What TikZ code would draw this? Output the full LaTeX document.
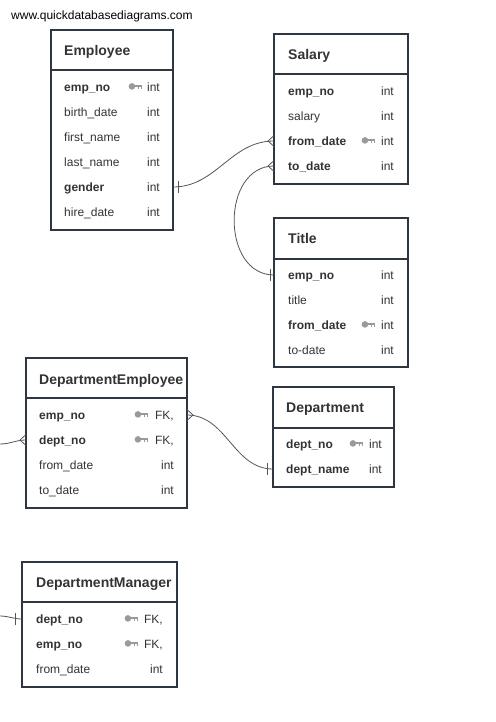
\documentclass[tikz,border=0pt]{standalone}
\usepackage{fontspec}
\setmainfont{Liberation Sans}
\usepackage{tikz}

\definecolor{tblborder}{HTML}{2E3641}
\definecolor{ink}{HTML}{333333}
\definecolor{keygray}{HTML}{9A9A9A}
\definecolor{relgray}{HTML}{555555}

\tikzset{
	tbl/.style={draw=tblborder, line width=2pt, anchor=north west, inner sep=0pt, outer sep=0pt},
	divider/.style={draw=tblborder, line width=2pt},
	hdr/.style={anchor=west, inner sep=0pt, text=ink, text height=10pt, text depth=0pt,
		font=\fontsize{14}{16}\selectfont\bfseries},
	fld/.style={anchor=west, inner sep=0pt, text=ink, text height=8.6pt, text depth=0pt,
		font=\fontsize{12}{14}\selectfont},
	pkfld/.style={fld, font=\fontsize{12}{14}\selectfont\bfseries},
	typ/.style={fld, anchor=east},
	rel/.style={draw=relgray, line width=0.8pt},
	keyicon/.pic={
		\fill[keygray] (-10,-0.6) circle (3.3);
		\fill[keygray] (-7.5,-1.8) rectangle (0,0.3);
		\fill[keygray] (-4,0) rectangle (-2.6,2.4);
		\fill[keygray] (-1.4,0) rectangle (0,2.4);
	},
	crow/.pic={\draw[rel] (-6,0) -- (0,-5.5) (-6,0) -- (0,5.5);},
	onebar/.pic={\draw[rel] (-5,-6) -- (-5,6);}
}

\begin{document}
\begin{tikzpicture}[x=1pt, y=-1pt]
	\useasboundingbox (0,0) rectangle (495,722);

	\node[anchor=west, inner sep=0pt, font=\fontsize{12}{14}\selectfont] (site) at (11,16) {www.quickdatabasediagrams.com};

	% Employee
	\node[tbl, minimum width=122pt, minimum height=200pt] (employee) at (51,30) {};
	\draw[divider] (51,70) -- (173,70);
	\node[hdr] (employee-h) at (64,50.5) {Employee};
	\node[pkfld] (employee-empno) at (64,87) {emp\_no};
	\node[fld] (employee-birth) at (64,112) {birth\_date};
	\node[fld] (employee-first) at (64,137) {first\_name};
	\node[fld] (employee-last) at (64,162) {last\_name};
	\node[pkfld] (employee-gender) at (64,187) {gender};
	\node[fld] (employee-hire) at (64,212) {hire\_date};
	\node[typ] (employee-t1) at (160,87) {int};
	\node[typ] (employee-t2) at (160,112) {int};
	\node[typ] (employee-t3) at (160,137) {int};
	\node[typ] (employee-t4) at (160,162) {int};
	\node[typ] (employee-t5) at (160,187) {int};
	\node[typ] (employee-t6) at (160,212) {int};
	\pic at ([xshift=-5pt]employee-t1.west) {keyicon};

	% Salary
	\node[tbl, minimum width=134pt, minimum height=150pt] (salary) at (274,34) {};
	\draw[divider] (274,74) -- (408,74);
	\node[hdr] (salary-h) at (288,55) {Salary};
	\node[pkfld] (salary-empno) at (288,91) {emp\_no};
	\node[fld] (salary-salary) at (288,116) {salary};
	\node[pkfld] (salary-from) at (288,141) {from\_date};
	\node[pkfld] (salary-to) at (288,166) {to\_date};
	\node[typ] (salary-t1) at (394,91) {int};
	\node[typ] (salary-t2) at (394,116) {int};
	\node[typ] (salary-t3) at (394,141) {int};
	\node[typ] (salary-t4) at (394,166) {int};
	\pic at ([xshift=-6pt]salary-t3.west) {keyicon};

	% Title
	\node[tbl, minimum width=134pt, minimum height=149pt] (title) at (274,218) {};
	\draw[divider] (274,259) -- (408,259);
	\node[hdr] (title-h) at (288,238) {Title};
	\node[pkfld] (title-empno) at (288,275) {emp\_no};
	\node[fld] (title-title) at (288,300) {title};
	\node[pkfld] (title-from) at (288,325) {from\_date};
	\node[fld] (title-to) at (288,350) {to-date};
	\node[typ] (title-t1) at (394,275) {int};
	\node[typ] (title-t2) at (394,300) {int};
	\node[typ] (title-t3) at (394,325) {int};
	\node[typ] (title-t4) at (394,350) {int};
	\pic at ([xshift=-6pt]title-t3.west) {keyicon};

	% DepartmentEmployee
	\node[tbl, minimum width=161pt, minimum height=150pt] (deptemp) at (26,358) {};
	\draw[divider] (26,398) -- (187,398);
	\node[hdr] (deptemp-h) at (39,379) {DepartmentEmployee};
	\node[pkfld] (deptemp-empno) at (39,415) {emp\_no};
	\node[pkfld] (deptemp-deptno) at (39,440) {dept\_no};
	\node[fld] (deptemp-from) at (39,465) {from\_date};
	\node[fld] (deptemp-to) at (39,490) {to\_date};
	\node[typ] (deptemp-t1) at (174,415) {FK,};
	\node[typ] (deptemp-t2) at (174,440) {FK,};
	\node[typ] (deptemp-t3) at (174,465) {int};
	\node[typ] (deptemp-t4) at (174,490) {int};
	\pic at ([xshift=-7pt]deptemp-t1.west) {keyicon};
	\pic at ([xshift=-7pt]deptemp-t2.west) {keyicon};

	% Department
	\node[tbl, minimum width=121pt, minimum height=100pt] (dept) at (273,387) {};
	\draw[divider] (273,428) -- (394,428);
	\node[hdr] (dept-h) at (286,407) {Department};
	\node[pkfld] (dept-deptno) at (286,444) {dept\_no};
	\node[pkfld] (dept-name) at (286,469) {dept\_name};
	\node[typ] (dept-t1) at (382,444) {int};
	\node[typ] (dept-t2) at (382,469) {int};
	\pic at ([xshift=-6pt]dept-t1.west) {keyicon};

	% DepartmentManager
	\node[tbl, minimum width=155pt, minimum height=125pt] (deptman) at (22,562) {};
	\draw[divider] (22,602) -- (177,602);
	\node[hdr] (deptman-h) at (36,582) {DepartmentManager};
	\node[pkfld] (deptman-deptno) at (36,619) {dept\_no};
	\node[pkfld] (deptman-empno) at (36,644) {emp\_no};
	\node[fld] (deptman-from) at (36,669) {from\_date};
	\node[typ] (deptman-t1) at (163,619) {FK,};
	\node[typ] (deptman-t2) at (163,644) {FK,};
	\node[typ] (deptman-t3) at (163,669) {int};
	\pic at ([xshift=-6pt]deptman-t1.west) {keyicon};
	\pic at ([xshift=-6pt]deptman-t2.west) {keyicon};

	% relations
	\coordinate (deoff) at (0,444);
	\coordinate (dmoff) at (0,616);

	\draw[rel] (employee.east |- employee-gender) to[out=0, in=180] (salary.west |- salary-from);
	\pic[xscale=-1] at (employee.east |- employee-gender) {onebar};
	\pic at (salary.west |- salary-from) {crow};

	\draw[rel] (salary.west |- salary-to) to[out=180, in=180, looseness=1.25] (title.west |- title-empno);
	\pic at (salary.west |- salary-to) {crow};
	\pic[xshift=1pt] at (title.west |- title-empno) {onebar};

	\draw[rel] (deptemp.east |- deptemp-empno) to[out=0, in=180] (dept.west |- dept-name);
	\pic[xscale=-1] at (deptemp.east |- deptemp-empno) {crow};
	\pic[xshift=-1pt] at (dept.west |- dept-name) {onebar};

	\draw[rel] (deoff) to[out=0, in=180] (deptemp.west |- deptemp-deptno);
	\pic at (deptemp.west |- deptemp-deptno) {crow};

	\draw[rel] (dmoff) to[out=0, in=180] (deptman.west |- deptman-deptno);
	\pic[xshift=-2pt] at (deptman.west |- deptman-deptno) {onebar};

\end{tikzpicture}
\end{document}
